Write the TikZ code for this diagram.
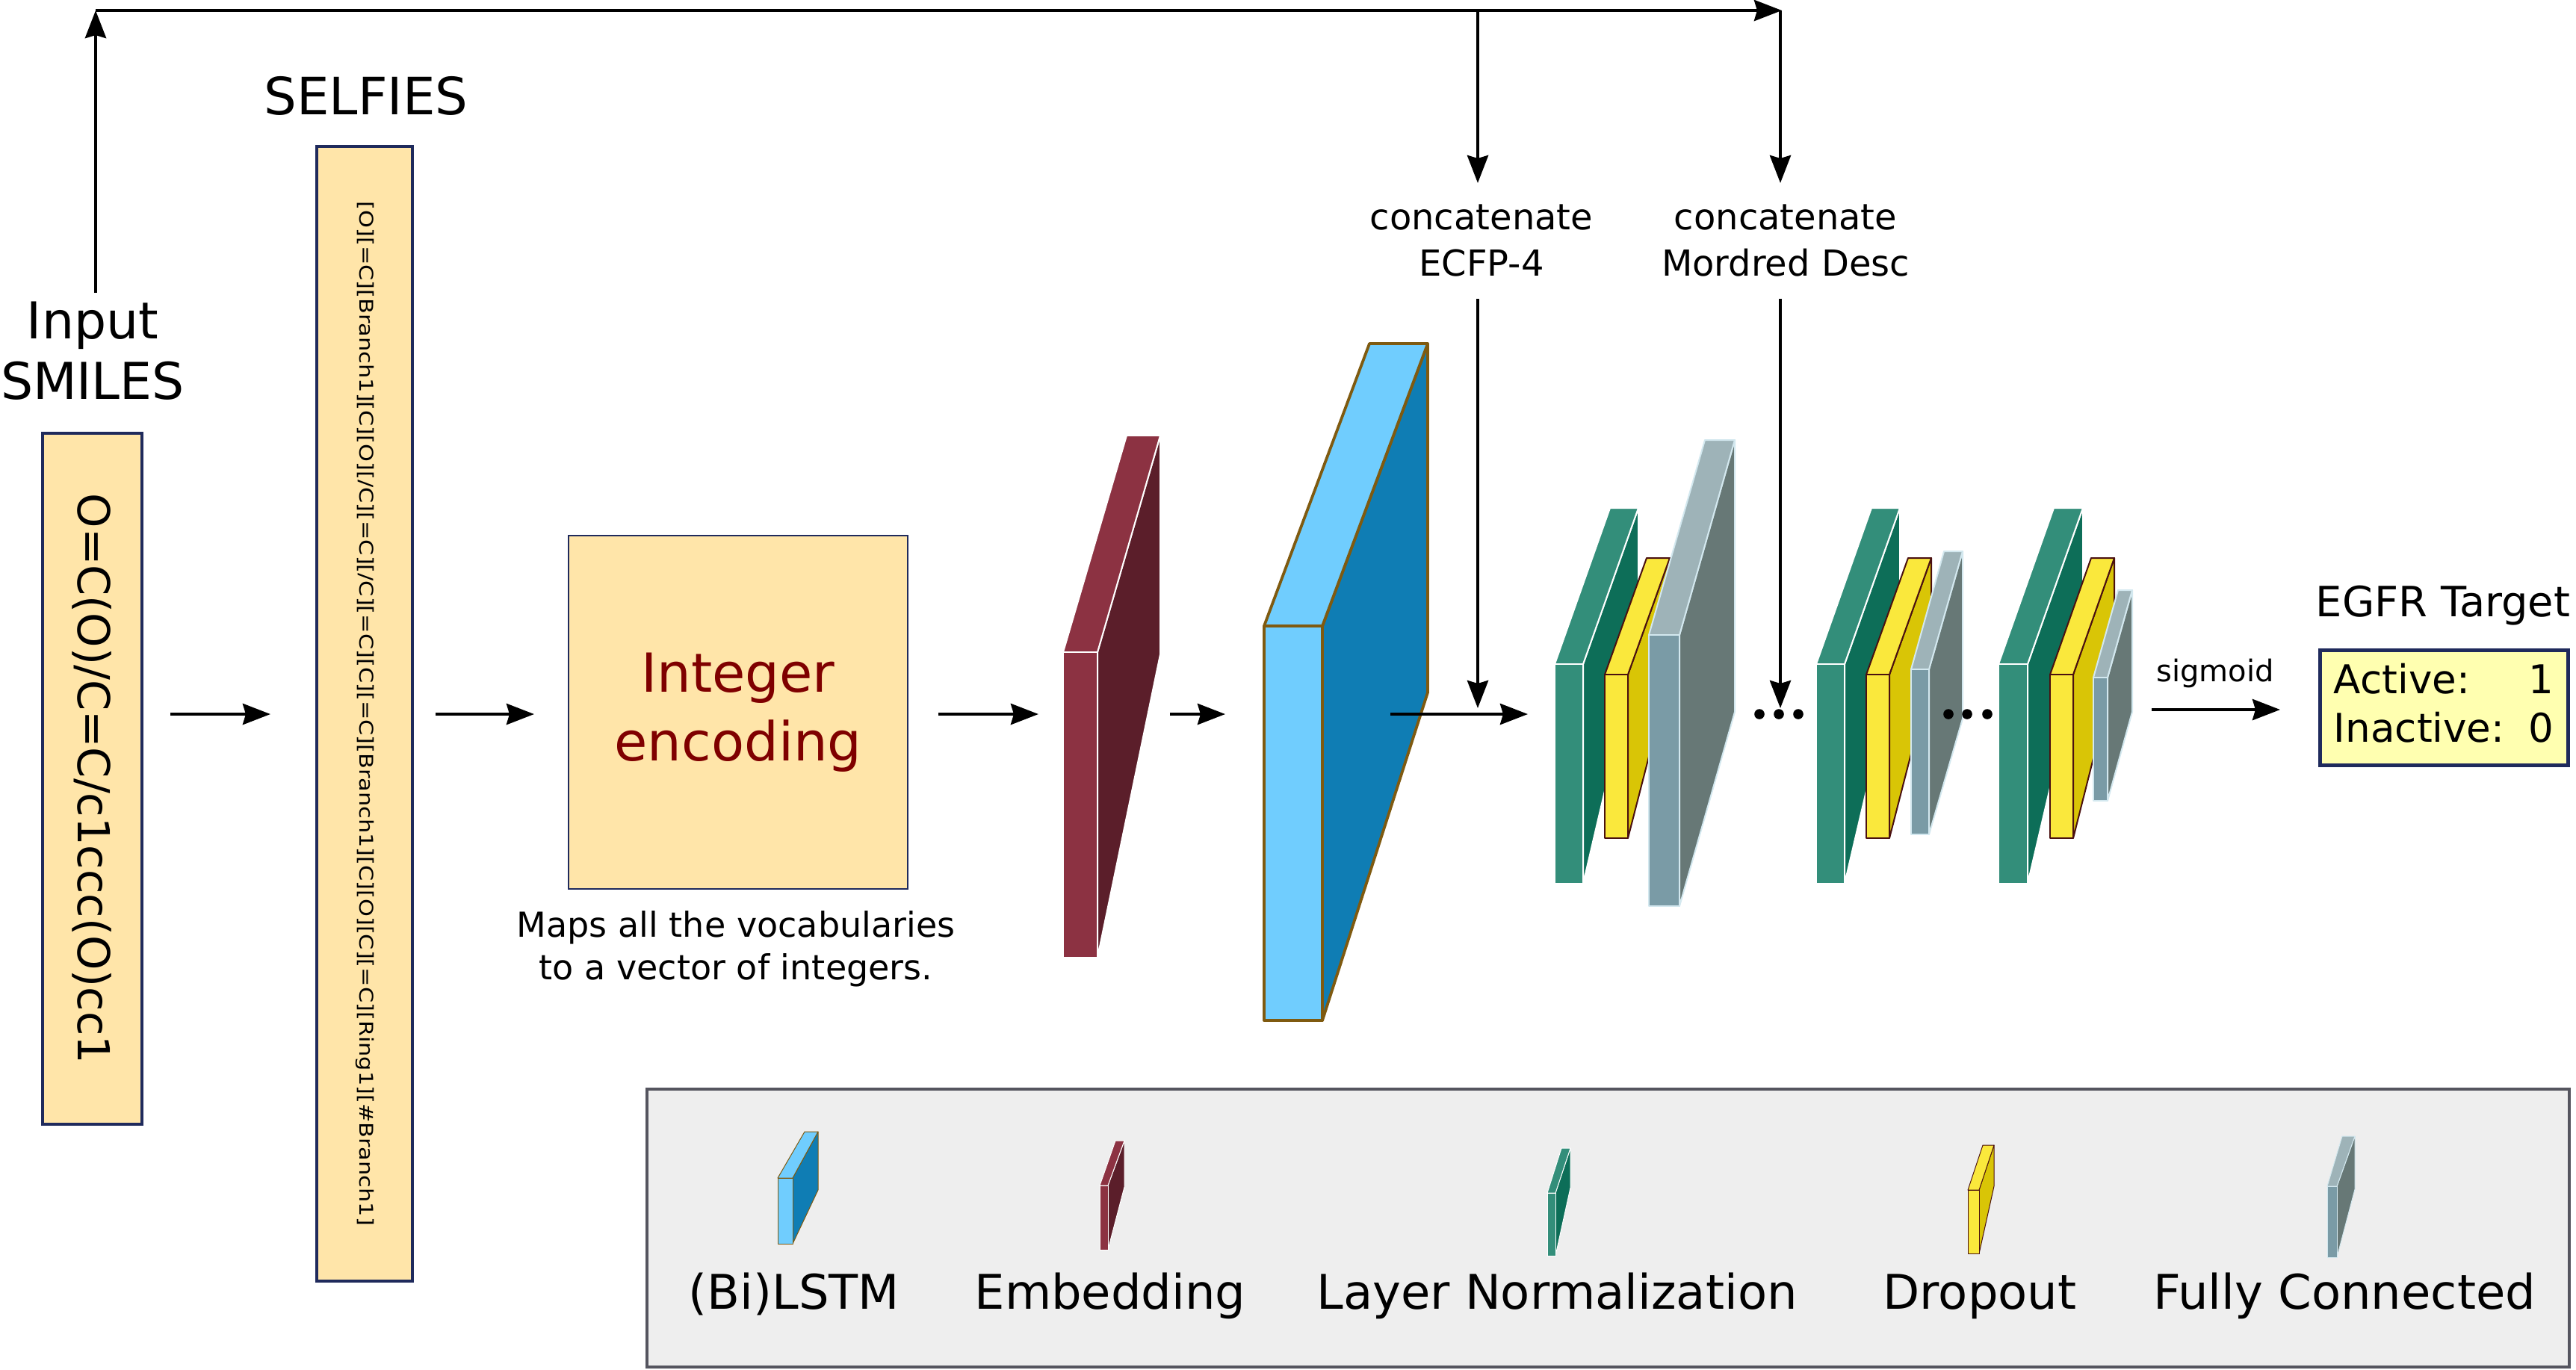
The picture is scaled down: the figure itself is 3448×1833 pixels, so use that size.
\documentclass[tikz,border=0pt]{standalone}
\usepackage{fontspec}
\usepackage{graphicx}
\setmainfont{DejaVu Sans}
\usetikzlibrary{arrows.meta}
\definecolor{boxfill}{HTML}{FFE5A9}
\definecolor{navy}{HTML}{1F2A5C}
\definecolor{encred}{HTML}{7F0000}
\definecolor{embF}{HTML}{8C3242}
\definecolor{embS}{HTML}{5B1E2A}
\definecolor{lstmF}{HTML}{70CDFE}
\definecolor{lstmS}{HTML}{0F7DB4}
\definecolor{lstmE}{HTML}{7F5A10}
\definecolor{lnF}{HTML}{338E7A}
\definecolor{lnS}{HTML}{0D6E58}
\definecolor{drF}{HTML}{FAE83C}
\definecolor{drS}{HTML}{D9C506}
\definecolor{drE}{HTML}{4A1010}
\definecolor{fcF}{HTML}{7A9BA6}
\definecolor{fcT}{HTML}{9EB3B8}
\definecolor{fcS}{HTML}{677876}
\definecolor{fcE}{HTML}{D3E8EF}
\definecolor{outfill}{HTML}{FFFFB0}
\definecolor{legfill}{HTML}{EEEEEE}
\definecolor{legedge}{HTML}{55555F}
\newcommand{\setfs}[2]{\fontsize{#1}{#2}\selectfont}
% #1 style prefix, #2 x0, #3 y0, #4 x1, #5 y1 (front), #6 bx0, #7 by0, #8 bx1 (back top), #9 back bottom y
\newcommand{\drawslab}[9]{%
  \path[#1side,line join=round] (#4,#3) -- (#8,#7) -- (#8,#9) -- (#4,#5) -- cycle;
  \path[#1top,line join=round] (#2,#3) -- (#4,#3) -- (#8,#7) -- (#6,#7) -- cycle;
  \path[#1front,line join=round] (#2,#3) rectangle (#4,#5);
}
\begin{document}
\begin{tikzpicture}[x=0.1mm,y=-0.1mm,
  every node/.style={inner sep=0pt},
  arr/.style={-{Stealth[length=3.7mm,width=2.8mm,inset=0.4mm]}, line width=0.46mm},
  obox/.style={draw=navy, fill=boxfill, inner sep=0pt},
  embfront/.style={fill=embF,draw=white}, embtop/.style={fill=embF,draw=white}, embside/.style={fill=embS,draw=white},
  lstmfront/.style={fill=lstmF,draw=lstmE}, lstmtop/.style={fill=lstmF,draw=lstmE}, lstmside/.style={fill=lstmS,draw=lstmE},
  lnfront/.style={fill=lnF,draw=white}, lntop/.style={fill=lnF,draw=white}, lnside/.style={fill=lnS,draw=white},
  drfront/.style={fill=drF,draw=drE}, drtop/.style={fill=drF,draw=drE}, drside/.style={fill=drS,draw=drE},
  fcfront/.style={fill=fcF,draw=fcE}, fctop/.style={fill=fcT,draw=fcE}, fcside/.style={fill=fcS,draw=fcE},
  leglbl/.style={anchor=base, font={\setfs{18.2pt}{22pt}}}
]
\useasboundingbox (0,0) rectangle (3448,1833);

% ---------- labels and boxes ----------
\node[align=center, font={\setfs{19.35pt}{23pt}}] (inlbl) at (124,470) {Input\\SMILES};
\node[obox, rotate=-90, minimum width=92.5mm, minimum height=13.3mm, line width=0.4mm,
      font={\setfs{16.8pt}{20pt}}] (smiles) at (123.5,1042.5) {O=C(O)/C=C/c1ccc(O)cc1};

\node[font={\setfs{19.6pt}{23pt}}] (selflbl) at (490,128) {SELFIES};
\node[obox, rotate=-90, minimum width=151.9mm, minimum height=12.8mm, line width=0.33mm,
      font={\setfs{7.2pt}{9pt}}] (selfies) at (488,955.5)
      {\scalebox{1.2}[1]{[O][=C][Branch1][C][O][/C][=C][/C][=C][C][=C][Branch1][C][O][C][=C][Ring1][\#Branch1]}};

\node[obox, line width=0.15mm, minimum width=45.4mm, minimum height=47.3mm, text=encred, align=center,
      font={\setfs{20.5pt}{26.2pt}}] (enc) at (988,953.5) {Integer\\encoding};
\node[align=center, font={\setfs{13.1pt}{16.2pt}}] (cap) at (985,1270) {Maps all the vocabularies\\to a vector of integers.};

\node[align=center, font={\setfs{13.65pt}{17.6pt}}] (cat1) at (1983,322) {concatenate\\ECFP-4};
\node[align=center, font={\setfs{13.65pt}{17.6pt}}] (cat2) at (2390,322) {concatenate\\Mordred Desc};

\node[anchor=base, font={\setfs{11.4pt}{14pt}}] (sig) at (2965,912) {sigmoid};
\node[anchor=base, font={\setfs{15.9pt}{19pt}}] (egfr) at (3270,825) {EGFR Target};
\node[draw=navy, fill=outfill, line width=0.5mm, minimum width=33.2mm, minimum height=15.4mm,
      font={\setfs{15.1pt}{18.5pt}}] (out) at (3271,947.5)
      {\begin{tabular}{@{}l@{\hspace{0.6em}}r@{}}Active: & 1\\ Inactive: & 0\end{tabular}};

% ---------- slabs ----------
\begin{scope}[line width=0.2mm]
\drawslab{emb}{1423}{873}{1469}{1282}{1508}{583}{1553}{876}
\end{scope}
\begin{scope}[line width=0.38mm]
\drawslab{lstm}{1692}{838}{1770}{1366}{1833}{460}{1911}{927}
\end{scope}
\begin{scope}[line width=0.2mm]
\drawslab{ln}{2081}{889}{2119}{1183}{2155}{680}{2193}{866}
\drawslab{dr}{2148}{903}{2179}{1122}{2204}{747}{2235}{904}
\drawslab{fc}{2207}{850}{2248}{1213}{2282}{589}{2322}{953}
\drawslab{ln}{2431}{889}{2469}{1183}{2505}{680}{2543}{866}
\drawslab{dr}{2498}{903}{2529}{1122}{2554}{747}{2585}{904}
\drawslab{fc}{2558}{896}{2582}{1117}{2602}{738}{2627}{962}
\drawslab{ln}{2675}{889}{2714}{1183}{2749}{680}{2788}{866}
\drawslab{dr}{2744}{903}{2775}{1122}{2799}{747}{2830}{904}
\drawslab{fc}{2802}{907}{2821}{1072}{2835}{790}{2854}{953}
\end{scope}

% dots
\foreach \dx in {2355,2381,2407,2608,2633,2660} \fill (\dx,956) circle[radius=0.68mm];

% ---------- connectors ----------
\coordinate (upS) at (128,392);
\coordinate (upE) at (128,14);
\coordinate (topR) at (2385,14);
\coordinate (ecT) at (1978,14);  \coordinate (ecB) at (1978,245);
\coordinate (moT) at (2383,14);  \coordinate (moB) at (2383,245);
\coordinate (ec2T) at (1978,400); \coordinate (ec2B) at (1978,948);
\coordinate (mo2T) at (2383,400); \coordinate (mo2B) at (2383,948);
\coordinate (a1s) at (228,956);  \coordinate (a1e) at (362,956);
\coordinate (a2s) at (583,956);  \coordinate (a2e) at (715,956);
\coordinate (a3s) at (1256,956); \coordinate (a3e) at (1390,956);
\coordinate (a4s) at (1566,956); \coordinate (a4e) at (1640,956);
\coordinate (a5s) at (1861,956); \coordinate (a5e) at (2045,956);
\coordinate (a6s) at (2880,950); \coordinate (a6e) at (3052,950);

\draw[arr] (upS) -- (upE);
\draw[arr] (upE) -- (topR);
\draw[arr] (ecT) -- (ecB);
\draw[arr] (moT) -- (moB);
\draw[arr] (ec2T) -- (ec2B);
\draw[arr] (mo2T) -- (mo2B);
\draw[arr] (a1s) -- (a1e);
\draw[arr] (a2s) -- (a2e);
\draw[arr] (a3s) -- (a3e);
\draw[arr] (a4s) -- (a4e);
\draw[arr] (a5s) -- (a5e);
\draw[arr] (a6s) -- (a6e);

% ---------- legend ----------
\node[draw=legedge, fill=legfill, line width=0.45mm, minimum width=257.3mm, minimum height=37.2mm] (legend) at (2152.5,1644) {};
\begin{scope}[line width=0.1mm]
\drawslab{lstm}{1041}{1577}{1061}{1665}{1077}{1515}{1095}{1593}
\drawslab{emb}{1472}{1587}{1483}{1673}{1493}{1527}{1505}{1589}
\drawslab{ln}{2071}{1597}{2082}{1681}{2090}{1537}{2102}{1590}
\drawslab{dr}{2634}{1593}{2649}{1678}{2654}{1533}{2669}{1588}
\drawslab{fc}{3115}{1588}{3128}{1683}{3135}{1521}{3152}{1592}
\end{scope}
\node[leglbl] (l1) at (1063,1752) {(Bi)LSTM};
\node[leglbl] (l2) at (1486,1752) {Embedding};
\node[leglbl] (l3) at (2084,1752) {Layer Normalization};
\node[leglbl] (l4) at (2650,1752) {Dropout};
\node[leglbl] (l5) at (3138,1752) {Fully Connected};
\end{tikzpicture}
\end{document}
